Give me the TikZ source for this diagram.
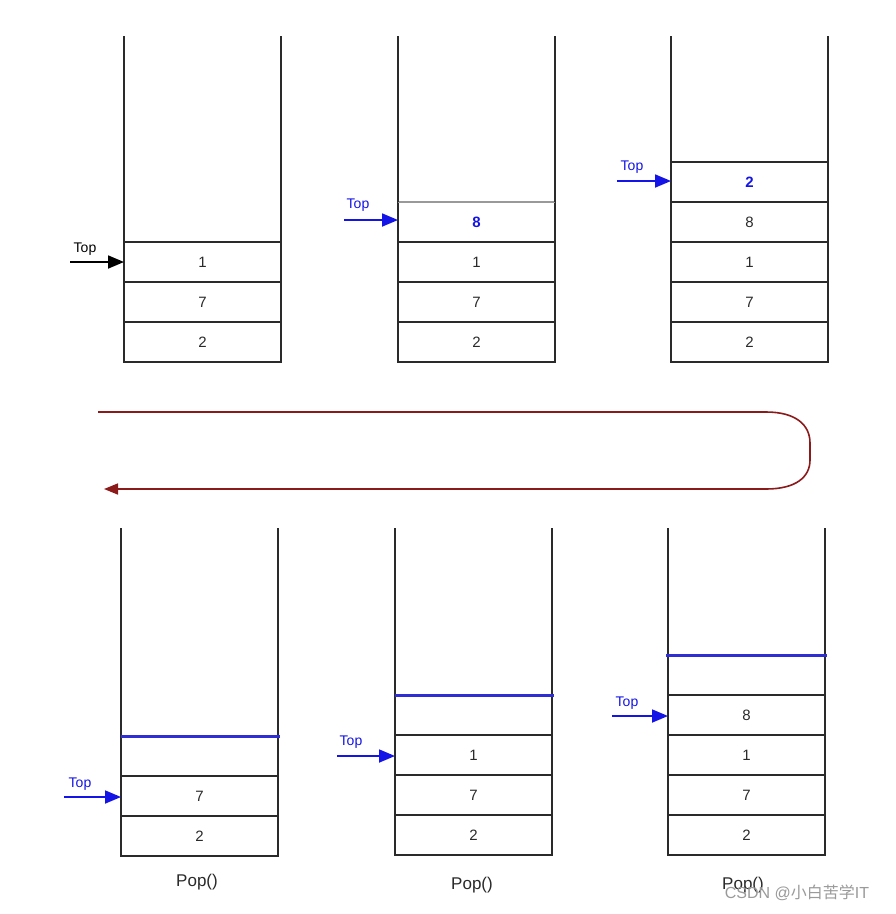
\documentclass[tikz,border=0pt]{standalone}
\usepackage{fontspec}
\setmainfont{Liberation Sans}
\newfontfamily\cjk{Noto Sans CJK SC}
\usetikzlibrary{arrows.meta}
\definecolor{edge}{HTML}{2A2A2A}
\definecolor{topblue}{HTML}{1414E6}
\definecolor{lineblue}{HTML}{2E2ED2}
\definecolor{loopred}{HTML}{8B1A1A}
\definecolor{wm}{HTML}{9A9A9A}
\begin{document}
\begin{tikzpicture}[x=1pt,y=-1pt,
  cell/.style={draw=edge, line width=1.6pt, outer sep=0pt, minimum width=157pt, minimum height=40pt, inner sep=0pt, text=edge, font=\fontsize{15}{15}\selectfont},
  newval/.style={text=topblue, font=\fontsize{15}{15}\selectfont\bfseries},
  side/.style={draw=edge, line width=1.6pt},
  toplbl/.style={inner sep=0pt, font=\fontsize{14}{14}\selectfont},
  toparrow/.style={-{Triangle[length=16pt,width=13pt]}, line width=1.8pt},
  oplbl/.style={inner sep=0pt, text=edge, font=\fontsize{17}{17}\selectfont},
  blueline/.style={draw=lineblue, line width=3pt}]
\useasboundingbox (0,0) rectangle (896,914);
\fill[white] (0,0) rectangle (896,914);

% ---------- Stack 1 ----------
\node[cell] (a1) at (202.5,262) {1};
\node[cell] (a2) at (202.5,302) {7};
\node[cell] (a3) at (202.5,342) {2};
\draw[side] (a1.north west) -- ++(0,-206);
\draw[side] (a1.north east) -- ++(0,-206);
\node[toplbl, text=black] (ta) at (85,249) {Top};
\coordinate (sa) at (70,262);
\draw[toparrow, black] (sa) -- (a1.west);

% ---------- Stack 2 ----------
\node[cell] (b0) at (476.5,222) {};
\node[newval] at (b0) {8};
\node[cell] (b1) at (476.5,262) {1};
\node[cell] (b2) at (476.5,302) {7};
\node[cell] (b3) at (476.5,342) {2};
\draw[draw=gray!80, line width=1.8pt] (b0.north west) -- (b0.north east);
\draw[side] (b0.north west) -- ++(0,-166);
\draw[side] (b0.north east) -- ++(0,-166);
\node[toplbl, text=topblue] (tb) at (358,205) {Top};
\coordinate (sb) at (344,220);
\draw[toparrow, topblue] (sb) -- (b0.west |- sb);

% ---------- Stack 3 ----------
\node[cell] (c0) at (749.5,182) {};
\node[newval] at (c0) {2};
\node[cell] (c1) at (749.5,222) {8};
\node[cell] (c2) at (749.5,262) {1};
\node[cell] (c3) at (749.5,302) {7};
\node[cell] (c4) at (749.5,342) {2};
\draw[side] (c0.north west) -- ++(0,-126);
\draw[side] (c0.north east) -- ++(0,-126);
\node[toplbl, text=topblue] (tc) at (632,167) {Top};
\coordinate (sc) at (617,181);
\draw[toparrow, topblue] (sc) -- (c0.west |- sc);

% ---------- Loop arrow ----------
\coordinate (ls) at (98,412);
\coordinate (le) at (104,489);
\draw[loopred, line width=1.6pt, -{Triangle[length=14pt,width=11pt]}]
  (ls) -- (766,412) .. controls (796,412) and (810,425) .. (810,443)
  -- (810,460) .. controls (810,477) and (796,489) .. (766,489) -- (le);

% ---------- Stack 4 ----------
\node[cell] (d0) at (199.5,756) {};
\node[cell] (d1) at (199.5,796) {7};
\node[cell] (d2) at (199.5,836) {2};
\draw[side] (d0.north west) -- ++(0,-208);
\draw[side] (d0.north east) -- ++(0,-208);
\draw[blueline] ([xshift=-0.5pt]d0.north west) -- ([xshift=2pt]d0.north east);
\node[toplbl, text=topblue] (td) at (80,784) {Top};
\coordinate (sd) at (64,797);
\draw[toparrow, topblue] (sd) -- (d1.west |- sd);
\node[oplbl] (pd) at (197,882) {Pop()};

% ---------- Stack 5 ----------
\node[cell] (e0) at (473.5,715) {};
\node[cell] (e1) at (473.5,755) {1};
\node[cell] (e2) at (473.5,795) {7};
\node[cell] (e3) at (473.5,835) {2};
\draw[side] (e0.north west) -- ++(0,-167);
\draw[side] (e0.north east) -- ++(0,-167);
\draw[blueline] ([xshift=-0.5pt]e0.north west) -- ([xshift=2pt]e0.north east);
\node[toplbl, text=topblue] (te) at (351,742) {Top};
\coordinate (se) at (337,756);
\draw[toparrow, topblue] (se) -- (e1.west |- se);
\node[oplbl] (pe) at (472,885) {Pop()};

% ---------- Stack 6 ----------
\node[cell] (f0) at (746.5,675) {};
\node[cell] (f1) at (746.5,715) {8};
\node[cell] (f2) at (746.5,755) {1};
\node[cell] (f3) at (746.5,795) {7};
\node[cell] (f4) at (746.5,835) {2};
\draw[side] (f0.north west) -- ++(0,-127);
\draw[side] (f0.north east) -- ++(0,-127);
\draw[blueline] ([xshift=-2pt]f0.north west) -- ([xshift=2pt]f0.north east);
\node[toplbl, text=topblue] (tf) at (627,703) {Top};
\coordinate (sf) at (612,716);
\draw[toparrow, topblue] (sf) -- (f1.west |- sf);
\node[oplbl] (pf) at (743,885) {Pop()};

% ---------- Watermark ----------
\node[inner sep=0pt, text=wm, font=\fontsize{16}{16}\selectfont] (wmk) at (797,893) {CSDN @{\cjk 小白苦学}IT};
\end{tikzpicture}
\end{document}
